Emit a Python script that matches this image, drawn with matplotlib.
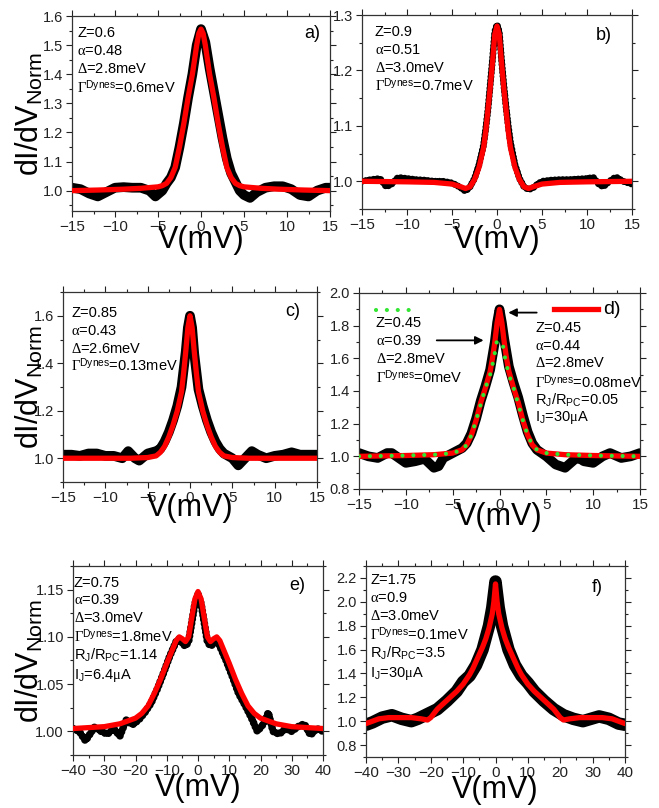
import matplotlib
matplotlib.use("Agg")
import matplotlib.pyplot as plt
from matplotlib.ticker import MultipleLocator

plt.rcParams['font.family'] = ['Liberation Sans', 'DejaVu Sans']
plt.rcParams['mathtext.fontset'] = 'custom'
plt.rcParams['mathtext.rm'] = 'Liberation Serif'
plt.rcParams['mathtext.sf'] = 'Liberation Sans'
plt.rcParams['mathtext.it'] = 'Liberation Serif:italic'

# ---------------- data ----------------
# panel a
a_V_exp = [-15, -14, -13, -12, -11, -10, -9, -8, -7, -6, -5.3, -4.5, -4, -3.5, -3, -2.5, -2, -1.5, -1, -0.5, 0,
           0.5, 1, 1.5, 2, 2.5, 3, 3.5, 4, 4.5, 5, 5.7, 6.5, 7.5, 8.5, 9.5, 10.5, 11.5, 12.5, 13.5, 14.5, 15]
a_G_exp = [1.01, 1.005, 0.99, 0.98, 0.995, 1.01, 1.012, 1.01, 1.01, 1.0, 0.98, 1.0, 1.025, 1.045, 1.08, 1.15, 1.23, 1.32, 1.40, 1.50, 1.555,
           1.51, 1.42, 1.34, 1.26, 1.18, 1.11, 1.06, 1.03, 1.0, 0.985, 0.975, 0.995, 1.01, 1.015, 1.015, 1.005, 0.985, 0.98, 1.0, 1.01, 1.01]
a_V_fit = [-15, -12, -9, -7, -5, -4.5, -4, -3.5, -3, -2.5, -2, -1.5, -1, -0.5, -0.25, 0,
           0.25, 0.5, 1, 1.5, 2, 2.5, 3, 3.5, 4, 4.5, 5, 7, 9, 12, 15]
a_G_fit = [1.0, 1.002, 1.005, 1.008, 1.013, 1.017, 1.025, 1.045, 1.08, 1.15, 1.23, 1.32, 1.40, 1.50, 1.54, 1.555,
           1.54, 1.50, 1.40, 1.32, 1.23, 1.15, 1.08, 1.045, 1.025, 1.017, 1.013, 1.008, 1.005, 1.002, 1.0]

# panel b
b_V_exp = [-15, -14, -13, -12.3, -11.7, -11, -10, -9, -8, -7, -6, -5, -4.5, -4, -3.5, -3, -2.5, -2, -1.5, -1.25, -1, -0.75, -0.5, -0.25, 0,
           0.25, 0.5, 0.75, 1, 1.25, 1.5, 2, 2.5, 3, 3.5, 4, 4.5, 5, 6, 7, 8, 9, 10, 10.7, 11.3, 11.8, 12.5, 13.2, 14, 15]
b_G_exp = [1.0, 1.003, 1.005, 0.99, 0.995, 1.007, 1.005, 1.003, 1.002, 1.0, 1.0, 0.997, 0.993, 0.988, 0.982, 0.99, 1.005, 1.03, 1.065, 1.095, 1.13, 1.175, 1.22, 1.27, 1.283,
           1.27, 1.22, 1.175, 1.135, 1.10, 1.07, 1.03, 1.005, 0.99, 0.985, 0.988, 0.995, 1.0, 1.002, 1.003, 1.003, 1.004, 1.005, 1.007, 0.995, 0.99, 1.0, 1.008, 1.0, 0.995]
b_V_fit = [-15, -10, -7, -5, -4, -3.5, -3, -2.5, -2, -1.5, -1.25, -1, -0.75, -0.5, -0.25, 0,
           0.25, 0.5, 0.75, 1, 1.25, 1.5, 2, 2.5, 3, 3.5, 4, 5, 7, 10, 15]
b_G_fit = [1.0, 0.999, 0.998, 0.995, 0.99, 0.987, 0.99, 1.003, 1.025, 1.06, 1.09, 1.13, 1.17, 1.215, 1.265, 1.28,
           1.265, 1.215, 1.17, 1.13, 1.09, 1.06, 1.025, 1.003, 0.99, 0.987, 0.99, 0.995, 0.998, 0.999, 1.0]

# panel c
c_V_exp = [-15, -14, -13, -12, -11, -10, -9, -8, -7.3, -6.5, -6, -5, -4, -3.5, -3, -2.5, -2, -1.5, -1, -0.5, -0.25, 0,
           0.25, 0.5, 1, 1.5, 2, 2.5, 3, 3.5, 4, 5, 5.7, 6.5, 7.3, 8, 9, 10, 11, 12, 13, 14, 15]
c_G_exp = [1.015, 1.015, 1.01, 1.02, 1.02, 1.01, 1.01, 1.0, 1.03, 1.0, 0.99, 1.02, 1.03, 1.04, 1.07, 1.11, 1.16, 1.22, 1.30, 1.45, 1.55, 1.6,
           1.55, 1.44, 1.29, 1.22, 1.16, 1.11, 1.07, 1.04, 1.02, 1.0, 0.97, 1.0, 1.03, 1.015, 1.0, 1.01, 1.015, 1.025, 1.015, 1.015, 1.015]
c_V_fit = [-15, -7, -5, -4, -3.5, -3, -2.5, -2, -1.5, -1, -0.75, -0.5, -0.25, 0,
           0.25, 0.5, 0.75, 1, 1.5, 2, 2.5, 3, 3.5, 4, 5, 7, 15]
c_G_fit = [1.0, 1.0, 1.003, 1.01, 1.025, 1.05, 1.09, 1.14, 1.2, 1.28, 1.36, 1.45, 1.55, 1.6,
           1.55, 1.45, 1.36, 1.28, 1.2, 1.14, 1.09, 1.05, 1.025, 1.01, 1.003, 1.0, 1.0]

# panel d
d_V_exp = [-15, -14, -13, -12, -11.5, -11, -10, -9, -8, -7, -6.5, -6, -5, -4, -3.5, -3, -2.5, -2, -1.5, -1, -0.5, -0.25, 0,
           0.25, 0.5, 1, 1.5, 2, 2.5, 3, 3.5, 4, 5, 6, 7, 8, 8.5, 9, 10, 11, 11.8, 13, 14, 15]
d_G_exp = [1.02, 1.0, 0.99, 1.02, 1.02, 1.0, 0.96, 0.97, 0.985, 0.93, 0.94, 0.99, 1.02, 1.05, 1.08, 1.14, 1.23, 1.34, 1.43, 1.53, 1.70, 1.82, 1.9,
           1.82, 1.72, 1.55, 1.45, 1.36, 1.25, 1.15, 1.08, 1.04, 1.0, 0.95, 0.93, 0.98, 0.99, 0.97, 0.96, 1.0, 1.02, 0.99, 1.0, 1.02]
d_V_fit = [-15, -10, -7, -5, -4, -3.5, -3, -2.5, -2, -1.5, -1, -0.75, -0.5, -0.25, 0,
           0.25, 0.5, 0.75, 1, 1.5, 2, 2.5, 3, 3.5, 4, 5, 7, 10, 15]
d_G_fit = [1.0, 1.005, 1.01, 1.02, 1.04, 1.07, 1.13, 1.22, 1.33, 1.42, 1.52, 1.6, 1.7, 1.82, 1.9,
           1.82, 1.7, 1.6, 1.52, 1.42, 1.33, 1.22, 1.13, 1.07, 1.04, 1.02, 1.01, 1.005, 1.0]
d_V_fit0 = [-15, -10, -7, -5, -4, -3.5, -3, -2.5, -2, -1.5, -1, -0.6, -0.3, 0,
            0.3, 0.6, 1, 1.5, 2, 2.5, 3, 3.5, 4, 5, 7, 10, 15]
d_G_fit0 = [1.0, 1.005, 1.01, 1.02, 1.04, 1.07, 1.13, 1.22, 1.32, 1.42, 1.5, 1.6, 1.7, 1.7,
            1.7, 1.6, 1.5, 1.42, 1.32, 1.22, 1.13, 1.07, 1.04, 1.02, 1.01, 1.005, 1.0]

# panel e
e_V_exp = [-40, -38, -36, -34, -33, -31, -29, -27, -25, -23, -21, -19, -17, -15, -13, -11, -9, -7, -6, -5, -4, -3, -2, -1, 0,
           1, 2, 3, 4, 5, 6, 7, 9, 11, 13, 15, 17, 19, 21, 22.5, 24, 26, 28, 30, 32, 34, 36, 38, 40]
e_G_exp = [1.003, 1.0, 0.99, 1.0, 1.005, 1.0, 0.997, 1.003, 0.995, 1.012, 1.007, 1.012, 1.02, 1.03, 1.045, 1.062, 1.08, 1.095, 1.098, 1.093, 1.09, 1.095, 1.115, 1.135, 1.145,
           1.135, 1.115, 1.095, 1.09, 1.093, 1.097, 1.09, 1.075, 1.058, 1.04, 1.028, 1.015, 1.0, 1.008, 1.02, 1.0, 0.997, 1.003, 1.0, 1.005, 1.008, 0.996, 1.003, 1.0]
e_V_fit = [-40, -35, -30, -25, -20, -18, -16, -14, -12, -10, -8, -7, -6, -5, -4, -3, -2, -1, 0,
           1, 2, 3, 4, 5, 6, 7, 8, 10, 12, 14, 16, 18, 20, 25, 30, 35, 40]
e_G_fit = [1.003, 1.004, 1.005, 1.008, 1.014, 1.019, 1.027, 1.04, 1.055, 1.072, 1.088, 1.096, 1.1, 1.098, 1.095, 1.1, 1.12, 1.14, 1.148,
           1.14, 1.12, 1.1, 1.095, 1.098, 1.1, 1.096, 1.088, 1.072, 1.055, 1.04, 1.027, 1.019, 1.014, 1.008, 1.005, 1.004, 1.003]

# panel f
f_V_exp = [-40, -38, -35, -32, -29, -26, -24, -21, -18, -15, -12, -10, -8, -6, -4, -2, -1, 0,
           1, 2, 4, 6, 8, 10, 12, 15, 18, 21, 24, 27, 29.5, 32, 35, 38, 40]
f_G_exp = [0.97, 0.99, 1.03, 1.05, 1.02, 1.0, 1.02, 1.06, 1.1, 1.17, 1.25, 1.33, 1.38, 1.47, 1.6, 1.8, 1.95, 2.17,
           1.95, 1.8, 1.6, 1.47, 1.38, 1.32, 1.25, 1.17, 1.1, 1.05, 1.02, 1.0, 1.02, 1.04, 1.02, 0.98, 0.97]
f_V_fit = [-40, -38, -36, -33, -30, -26, -23, -21, -20, -18, -16, -14, -12, -10, -8, -7, -6, -5, -4, -3, -2, -1, -0.5, 0,
           0.5, 1, 2, 3, 4, 5, 6, 7, 8, 10, 12, 14, 16, 18, 20, 21, 23, 26, 30, 33, 36, 38, 40]
f_G_fit = [0.98, 1.0, 1.02, 1.03, 1.03, 1.03, 1.02, 1.01, 1.03, 1.1, 1.15, 1.2, 1.25, 1.31, 1.39, 1.44, 1.5, 1.56, 1.62, 1.69, 1.78, 1.9, 2.0, 2.15,
           2.0, 1.9, 1.78, 1.69, 1.62, 1.56, 1.5, 1.44, 1.39, 1.31, 1.25, 1.2, 1.15, 1.1, 1.03, 1.01, 1.02, 1.03, 1.03, 1.03, 1.02, 1.0, 0.98]

# annotation texts
a_txt = [r'Z=0.6', r'$\mathrm{\alpha}$=0.48', r'$\Delta$=2.8meV', r'$\Gamma^{\mathsf{Dynes}}$=0.6meV']
b_txt = [r'Z=0.9', r'$\mathrm{\alpha}$=0.51', r'$\Delta$=3.0meV', r'$\Gamma^{\mathsf{Dynes}}$=0.7meV']
c_txt = [r'Z=0.85', r'$\mathrm{\alpha}$=0.43', r'$\Delta$=2.6meV', r'$\Gamma^{\mathsf{Dynes}}$=0.13meV']
d_txt_l = [r'Z=0.45', r'$\mathrm{\alpha}$=0.39', r'$\Delta$=2.8meV', r'$\Gamma^{\mathsf{Dynes}}$=0meV']
d_txt_r = [r'Z=0.45', r'$\mathrm{\alpha}$=0.44', r'$\Delta$=2.8meV', r'$\Gamma^{\mathsf{Dynes}}$=0.08meV',
           r'R$_{\mathsf{J}}$/R$_{\mathsf{PC}}$=0.05', r'I$_{\mathsf{J}}$=30$\mathrm{\mu}$A']
e_txt = [r'Z=0.75', r'$\mathrm{\alpha}$=0.39', r'$\Delta$=3.0meV', r'$\Gamma^{\mathsf{Dynes}}$=1.8meV',
         r'R$_{\mathsf{J}}$/R$_{\mathsf{PC}}$=1.14', r'I$_{\mathsf{J}}$=6.4$\mathrm{\mu}$A']
f_txt = [r'Z=1.75', r'$\mathrm{\alpha}$=0.9', r'$\Delta$=3.0meV', r'$\Gamma^{\mathsf{Dynes}}$=0.1meV',
         r'R$_{\mathsf{J}}$/R$_{\mathsf{PC}}$=3.5', r'I$_{\mathsf{J}}$=30$\mathrm{\mu}$A']

# ---------------- layout ----------------
W, H = 659, 808
fig = plt.figure(figsize=(W / 100, H / 100), dpi=100)

RED = '#ff0000'
GREEN = '#33e633'


def make_ax(l, t, r, b):
    ax = fig.add_axes([l / W, (H - b) / H, (r - l) / W, (b - t) / H])
    ax._px = (l, t, r, b)
    for s in ax.spines.values():
        s.set_linewidth(0.9)
        s.set_color('#333333')
    ax.tick_params(which='both', direction='out', top=True, right=True,
                   width=0.8, colors='#222222', pad=2)
    ax.tick_params(axis='x', labelsize=11)
    ax.tick_params(axis='y', labelsize=10.5)
    ax.tick_params(which='major', length=4.5)
    ax.tick_params(which='minor', length=2.5)
    return ax


def ptxt(ax, x, y, s, **kw):
    l, t, r, b = ax._px
    ax.text((x - l) / (r - l), (b - y) / (b - t), s, transform=ax.transAxes,
            fontsize=kw.pop('fontsize', 10.5), va=kw.pop('va', 'center'), **kw)


def block(ax, x, ys, lines):
    for y, s in zip(ys, lines):
        ptxt(ax, x, y, s)


def xlab(ax, ypx):
    l, t, r, b = ax._px
    ax.set_xlabel('V(mV)', fontsize=22)
    ax.xaxis.set_label_coords(0.5, (b - ypx) / (b - t))
    ax.xaxis.label.set_va('center')


def ylab(ax, xpx):
    l, t, r, b = ax._px
    ax.set_ylabel(r'dI/dV$_{\mathsf{Norm}}$', fontsize=22)
    ax.yaxis.set_label_coords((xpx - l) / (r - l), 0.5)
    ax.yaxis.label.set_va('center')


def exp_solid(ax, V, G, lw=7):
    ax.plot(V, G, color='black', lw=lw, solid_capstyle='round', solid_joinstyle='round', zorder=2)


def exp_dots(ax, V, G, lw=5):
    ax.plot(V, G, color='black', lw=lw, ls=(0, (0.01, 0.55)), dash_capstyle='round', zorder=2)


def fit(ax, V, G, lw=3.8):
    ax.plot(V, G, color=RED, lw=lw, solid_capstyle='round', solid_joinstyle='round', zorder=3)


# panel a
ax = make_ax(72, 16, 330, 211)
exp_solid(ax, a_V_exp, a_G_exp)
fit(ax, a_V_fit, a_G_fit)
ax.set_xlim(-15, 15); ax.set_ylim(0.93, 1.6)
ax.xaxis.set_major_locator(MultipleLocator(5)); ax.xaxis.set_minor_locator(MultipleLocator(2.5))
ax.yaxis.set_major_locator(MultipleLocator(0.1)); ax.yaxis.set_minor_locator(MultipleLocator(0.05))
ax.yaxis.set_major_formatter(plt.FormatStrFormatter('%.1f'))
block(ax, 77, [33, 51, 69, 87], a_txt)
ptxt(ax, 320, 34, 'a)', fontsize=13, ha='right')
xlab(ax, 240); ylab(ax, 30)

# panel b
ax = make_ax(362, 15, 632, 209)
exp_dots(ax, b_V_exp, b_G_exp)
fit(ax, b_V_fit, b_G_fit)
ax.set_xlim(-15, 15); ax.set_ylim(0.95, 1.3)
ax.xaxis.set_major_locator(MultipleLocator(5)); ax.xaxis.set_minor_locator(MultipleLocator(2.5))
ax.yaxis.set_major_locator(MultipleLocator(0.1)); ax.yaxis.set_minor_locator(MultipleLocator(0.05))
ax.yaxis.set_major_formatter(plt.FormatStrFormatter('%.1f'))
block(ax, 375, [32, 50, 68, 85], b_txt)
ptxt(ax, 612, 35, 'b)', fontsize=13, ha='right')
xlab(ax, 240)

# panel c
ax = make_ax(63, 292, 317, 482)
exp_solid(ax, c_V_exp, c_G_exp)
fit(ax, c_V_fit, c_G_fit)
ax.set_xlim(-15, 15); ax.set_ylim(0.9, 1.7)
ax.xaxis.set_major_locator(MultipleLocator(5)); ax.xaxis.set_minor_locator(MultipleLocator(2.5))
ax.yaxis.set_major_locator(MultipleLocator(0.2)); ax.yaxis.set_minor_locator(MultipleLocator(0.1))
ax.yaxis.set_major_formatter(plt.FormatStrFormatter('%.1f'))
block(ax, 71, [313, 331, 349, 365], c_txt)
ptxt(ax, 300, 311, 'c)', fontsize=13, ha='right')
xlab(ax, 508); ylab(ax, 30)

# panel d
ax = make_ax(359, 293, 640, 489)
exp_solid(ax, d_V_exp, d_G_exp)
fit(ax, d_V_fit, d_G_fit)
ax.plot(d_V_fit0, d_G_fit0, color=GREEN, lw=3, ls=(0, (0.01, 2.6)), dash_capstyle='round', zorder=4)
ax.set_xlim(-15, 15); ax.set_ylim(0.8, 2.0)
ax.xaxis.set_major_locator(MultipleLocator(5)); ax.xaxis.set_minor_locator(MultipleLocator(2.5))
ax.yaxis.set_major_locator(MultipleLocator(0.2)); ax.yaxis.set_minor_locator(MultipleLocator(0.1))
ax.yaxis.set_major_formatter(plt.FormatStrFormatter('%.1f'))
ax.plot([-13.2, -8.9], [1.895, 1.895], color=GREEN, lw=3, ls=(0, (0.01, 2.6)), dash_capstyle='round')
ax.plot([5.85, 10.5], [1.9, 1.9], color=RED, lw=3.8)
ax.annotate('', xy=(-1.7, 1.71), xytext=(-6.7, 1.71),
            arrowprops=dict(arrowstyle='-|>', color='black', lw=1.3, mutation_scale=12, shrinkA=0, shrinkB=0))
ax.annotate('', xy=(0.94, 1.88), xytext=(3.97, 1.88),
            arrowprops=dict(arrowstyle='-|>', color='black', lw=1.3, mutation_scale=12, shrinkA=0, shrinkB=0))
block(ax, 376, [323, 341, 359, 377], d_txt_l)
block(ax, 535, [328, 346, 363, 382, 400, 418], d_txt_r)
ptxt(ax, 603, 310, 'd)', fontsize=14)
xlab(ax, 517)

# panel e
ax = make_ax(73, 566, 323, 755)
exp_dots(ax, e_V_exp, e_G_exp, lw=5.5)
fit(ax, e_V_fit, e_G_fit)
ax.set_xlim(-40, 40); ax.set_ylim(0.975, 1.175)
ax.xaxis.set_major_locator(MultipleLocator(10)); ax.xaxis.set_minor_locator(MultipleLocator(5))
ax.yaxis.set_major_locator(MultipleLocator(0.05)); ax.yaxis.set_minor_locator(MultipleLocator(0.025))
ax.yaxis.set_major_formatter(plt.FormatStrFormatter('%.2f'))
block(ax, 74, [583, 600, 618, 636, 655, 675], e_txt)
ptxt(ax, 305, 585, 'e)', fontsize=13, ha='right')
xlab(ax, 788); ylab(ax, 30)

# panel f
ax = make_ax(366, 566, 625, 757)
exp_solid(ax, f_V_exp, f_G_exp, lw=9)
fit(ax, f_V_fit, f_G_fit)
ax.set_xlim(-40, 40); ax.set_ylim(0.7, 2.3)
ax.xaxis.set_major_locator(MultipleLocator(10)); ax.xaxis.set_minor_locator(MultipleLocator(5))
ax.yaxis.set_major_locator(MultipleLocator(0.2)); ax.yaxis.set_minor_locator(MultipleLocator(0.1))
ax.yaxis.set_major_formatter(plt.FormatStrFormatter('%.1f'))
block(ax, 370, [580, 598, 616, 634, 653, 673], f_txt)
ptxt(ax, 603, 587, 'f)', fontsize=13, ha='right')
xlab(ax, 790)

fig.savefig('out.png', dpi=100)
